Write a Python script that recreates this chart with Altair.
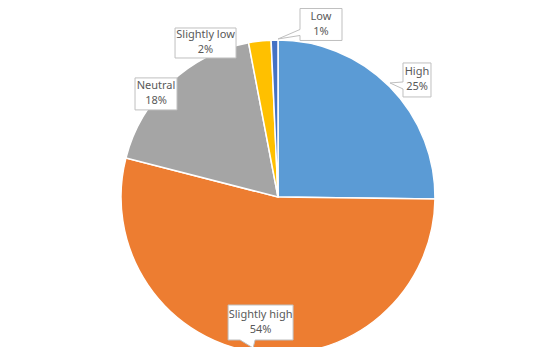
import math
import altair as alt
import pandas as pd

# ---- data ----
categories = ["High", "Slightly high", "Neutral", "Slightly low", "Low"]
shares = [25.2, 53.8, 18.0, 2.3, 0.7]
colors = ["#5B9BD5", "#ED7D31", "#A5A5A5", "#FFC000", "#4472C4"]

# ---- callout layout (styling): box centre in polar terms around the pie centre ----
label_angle_deg = [49.9, 187.9, 310.2, 334.8, 14.0]
label_dist_px = [181.7, 126.7, 159.7, 170.2, 177.8]
box_paths = [
    "M-14,-17H14V17H-14V9L-27,3L-14,2Z",
    "M-32.5,-17.5H32.5V17.5H-5.5L-7.5,25.5L-20.5,17.5H-32.5Z",
    "M-21,-16H21V16H-21Z",
    "M-30.5,-15H30.5V15H-30.5Z",
    "M-21,-16H21V16H-21V11L-43,14.5L-21,5Z",
]

W, H = 540, 300
CX, CY = W / 2, H / 2
R = 157

df = pd.DataFrame({
    "category": categories,
    "share": shares,
    "order": list(range(len(categories))),
})
df["label"] = [f"{c}\n{round(s)}%" for c, s in zip(categories, shares)]
df["lx"] = [CX + d * math.sin(math.radians(a)) for a, d in zip(label_angle_deg, label_dist_px)]
df["ly"] = [CY - d * math.cos(math.radians(a)) for a, d in zip(label_angle_deg, label_dist_px)]
df["box"] = box_paths

base = alt.Chart(df)

pie = base.mark_arc(outerRadius=R, stroke="white", strokeWidth=1.5).encode(
    theta=alt.Theta("share:Q", stack=True),
    color=alt.Color("category:N", scale=alt.Scale(domain=categories, range=colors), legend=None),
    order=alt.Order("order:Q", sort="ascending"),
)

boxes = base.mark_point(filled=True, fill="white", stroke="#BFBFBF", strokeWidth=1, opacity=1, size=4).encode(
    x=alt.X("lx:Q", scale=None, axis=None),
    y=alt.Y("ly:Q", scale=None, axis=None),
    shape=alt.Shape("box:N", scale=None, legend=None),
)

texts = base.mark_text(font="Noto Sans", fontSize=11, color="#595959", lineBreak="\n",
                       lineHeight=15, align="center", baseline="middle", dy=-7.5).encode(
    x=alt.X("lx:Q", scale=None, axis=None),
    y=alt.Y("ly:Q", scale=None, axis=None),
    text="label:N",
)

chart = alt.layer(pie, boxes, texts).properties(
    width=W, height=H,
    padding={"left": 0, "top": 39, "right": 0, "bottom": 0},
    autosize=alt.AutoSizeParams(type="none"),
    background="white",
).configure_view(stroke=None)

chart.save("out.html", embed_options={"renderer": "svg", "actions": False})
